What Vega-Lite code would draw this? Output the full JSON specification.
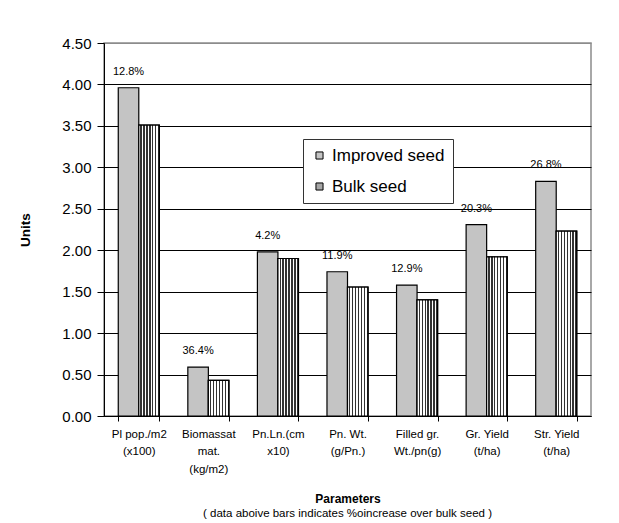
{
  "$schema": "https://vega.github.io/schema/vega-lite/v6.json",
  "autosize": "none",
  "width": 487,
  "height": 373,
  "padding": {"left": 104, "top": 43, "right": 28, "bottom": 107},
  "background": "white",
  "config": {
    "font": "Liberation Sans",
    "view": {"stroke": "#8c8c8c", "strokeWidth": 1.5}
  },
  "title": {
    "text": "( data aboive bars indicates %oincrease over bulk seed )",
    "orient": "bottom",
    "frame": "group",
    "anchor": "middle",
    "fontSize": 11.5,
    "fontWeight": "normal",
    "color": "black",
    "offset": 3
  },
  "data": {
    "values": [
      {"param": "Pl pop./m2|(x100)", "seed": "Improved seed", "value": 3.96, "pct": "12.8%"},
      {"param": "Pl pop./m2|(x100)", "seed": "Bulk seed", "value": 3.51, "pct": ""},
      {"param": "Biomassat|mat.|(kg/m2)", "seed": "Improved seed", "value": 0.59, "pct": "36.4%"},
      {"param": "Biomassat|mat.|(kg/m2)", "seed": "Bulk seed", "value": 0.43, "pct": ""},
      {"param": "Pn.Ln.(cm|x10)", "seed": "Improved seed", "value": 1.98, "pct": "4.2%"},
      {"param": "Pn.Ln.(cm|x10)", "seed": "Bulk seed", "value": 1.90, "pct": ""},
      {"param": "Pn. Wt.|(g/Pn.)", "seed": "Improved seed", "value": 1.74, "pct": "11.9%"},
      {"param": "Pn. Wt.|(g/Pn.)", "seed": "Bulk seed", "value": 1.555, "pct": ""},
      {"param": "Filled gr.|Wt./pn(g)", "seed": "Improved seed", "value": 1.58, "pct": "12.9%"},
      {"param": "Filled gr.|Wt./pn(g)", "seed": "Bulk seed", "value": 1.40, "pct": ""},
      {"param": "Gr. Yield|(t/ha)", "seed": "Improved seed", "value": 2.31, "pct": "20.3%"},
      {"param": "Gr. Yield|(t/ha)", "seed": "Bulk seed", "value": 1.92, "pct": ""},
      {"param": "Str. Yield|(t/ha)", "seed": "Improved seed", "value": 2.83, "pct": "26.8%"},
      {"param": "Str. Yield|(t/ha)", "seed": "Bulk seed", "value": 2.23, "pct": ""}
    ]
  },
  "encoding": {
    "x": {
      "field": "param",
      "type": "nominal",
      "sort": null,
      "scale": {"paddingInner": 0.41, "paddingOuter": 0.205},
      "axis": {
        "title": "Parameters",
        "titleFontSize": 12,
        "titleFontWeight": "bold",
        "titleColor": "black",
        "titlePadding": 19,
        "labelExpr": "split(datum.label, '|')",
        "labelAngle": 0,
        "labelFontSize": 11.5,
        "labelLineHeight": 17.5,
        "labelColor": "black",
        "labelPadding": 7,
        "tickBand": "extent",
        "tickSize": 5,
        "tickColor": "black",
        "domainColor": "black",
        "domainWidth": 1
      }
    },
    "xOffset": {
      "field": "seed",
      "type": "nominal",
      "scale": {"domain": ["Improved seed", "Bulk seed"], "paddingInner": 0, "paddingOuter": 0}
    },
    "y": {
      "field": "value",
      "type": "quantitative",
      "scale": {"domain": [0, 4.5], "nice": false},
      "axis": {
        "values": [0, 0.5, 1, 1.5, 2, 2.5, 3, 3.5, 4, 4.5],
        "format": ".2f",
        "title": "Units",
        "titleFontSize": 13.5,
        "titleFontWeight": "bold",
        "titleColor": "black",
        "titlePadding": 29,
        "labelFontSize": 15,
        "labelColor": "black",
        "labelPadding": 6,
        "tickSize": 7,
        "tickColor": "black",
        "domainColor": "black",
        "gridColor": {"condition": {"test": "datum.value === 4.5", "value": "#8c8c8c"}, "value": "black"},
        "gridWidth": 1
      }
    }
  },
  "layer": [
    {
      "mark": {"type": "bar", "stroke": "black", "strokeWidth": 1.2},
      "encoding": {
        "color": {
          "field": "seed",
          "type": "nominal",
          "scale": {"domain": ["Improved seed", "Bulk seed"], "range": ["#c4c4c4", "#a6a6a6"]},
          "legend": {
            "title": null,
            "orient": "none",
            "legendX": 199,
            "legendY": 96,
            "padding": 8,
            "strokeColor": "#333333",
            "fillColor": "white",
            "symbolType": "square",
            "symbolSize": 50,
            "symbolStrokeColor": "black",
            "symbolStrokeWidth": 1,
            "labelFontSize": 17,
            "labelColor": "black",
            "labelOffset": 4,
            "rowPadding": 13
          }
        }
      }
    },
    {
      "transform": [{"filter": "datum.seed === 'Bulk seed'"}],
      "mark": {
        "type": "bar",
        "stroke": "black",
        "strokeWidth": 1.2,
        "fill": {
          "gradient": "linear",
          "x1": 0, "y1": 0, "x2": 1, "y2": 0,
          "stops": [
            {"offset": 0, "color": "white"}, {"offset": 0.0786, "color": "white"}, {"offset": 0.0786, "color": "#333333"}, {"offset": 0.1429, "color": "#333333"},
            {"offset": 0.1429, "color": "white"}, {"offset": 0.2214, "color": "white"}, {"offset": 0.2214, "color": "#333333"}, {"offset": 0.2857, "color": "#333333"},
            {"offset": 0.2857, "color": "white"}, {"offset": 0.3643, "color": "white"}, {"offset": 0.3643, "color": "#333333"}, {"offset": 0.4286, "color": "#333333"},
            {"offset": 0.4286, "color": "white"}, {"offset": 0.5071, "color": "white"}, {"offset": 0.5071, "color": "#333333"}, {"offset": 0.5714, "color": "#333333"},
            {"offset": 0.5714, "color": "white"}, {"offset": 0.65, "color": "white"}, {"offset": 0.65, "color": "#333333"}, {"offset": 0.7143, "color": "#333333"},
            {"offset": 0.7143, "color": "white"}, {"offset": 0.7929, "color": "white"}, {"offset": 0.7929, "color": "#333333"}, {"offset": 0.8571, "color": "#333333"},
            {"offset": 0.8571, "color": "white"}, {"offset": 0.9357, "color": "white"}, {"offset": 0.9357, "color": "#333333"}, {"offset": 1, "color": "#333333"}
          ]
        }
      }
    },
    {
      "transform": [{"filter": "datum.seed === 'Improved seed'"}],
      "mark": {"type": "text", "dy": -16, "fontSize": 11, "color": "black"},
      "encoding": {"text": {"field": "pct"}}
    }
  ]
}
